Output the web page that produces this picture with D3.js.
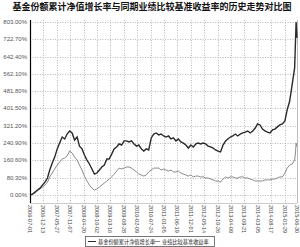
<!DOCTYPE html>
<html><head><meta charset="utf-8">
<script src="https://cdn.jsdelivr.net/npm/d3@7"></script>
<style>
html,body{margin:0;padding:0;background:#fff;}
svg{display:block;}
</style></head>
<body>
<svg id="c" width="300" height="247"></svg>
<script>
const title = "基金份额累计净值增长率与同期业绩比较基准收益率的历史走势对比图";
const seriesNames = ["基金份额累计净值增长率", "业绩比较基准收益率"];
const yTicks = [0, 80.3, 160.6, 240.9, 321.2, 401.5, 481.8, 562.1, 642.4, 722.7, 803.0];
const xTickLabels = ["2006-07-01","2006-12-13","2007-05-27","2007-11-07","2008-04-20","2008-10-02",
  "2009-03-16","2009-08-28","2010-02-09","2010-07-24","2011-01-05","2011-06-19","2011-12-01",
  "2012-05-14","2012-10-26","2013-04-09","2013-09-21","2014-03-05","2014-08-17","2015-01-29","2015-06-30"];
const extraDates = ["2015-06-12","2015-06-19","2015-06-30"];
const fundValues = [0,4.6,14,23,32,46,60,79,116,149,176,214,241,269,260,283,297,288,255,269,
  227,214,186,162,144,121,97,102,116,130,139,167,167,190,214,223,237,232,251,251,
  246,251,237,227,232,214,204,214,209,265,283,288,279,283,274,269,274,260,265,251,
  260,246,241,232,218,232,223,237,241,237,241,237,227,223,218,209,204,200,232,251,
  260,269,274,283,274,283,288,292,297,288,297,311,330,325,306,297,292,288,302,306,
  316,325,330,344,395,436,511,590,720,803,730,650];
const benchValues = [0,5,9,19,28,37,46,60,84,102,121,139,153,167,172,181,204,195,176,162,
  139,116,88,65,46,32,23,28,37,46,56,65,74,84,97,111,125,121,125,130,
  130,125,116,107,97,93,88,93,107,116,125,125,125,116,121,116,111,116,107,107,
  111,102,97,93,88,93,84,88,88,84,84,79,79,74,70,65,65,60,74,84,
  79,84,84,79,79,84,84,79,79,74,70,65,65,65,65,70,70,70,74,74,
  79,84,84,102,125,139,144,162,200,241,225,209];

const parse = d3.timeParse("%Y-%m-%d");
const monthly = d3.timeMonth.range(new Date(2006,6,1), new Date(2015,6,1));
const dates = monthly.concat(extraDates.map(parse));

const svg = d3.select("#c");
const L = 30, R = 297, T = 20, B = 203;
const x = d3.scaleTime().domain([new Date(2006,6,1), new Date(2015,5,30)]).range([L, R]);
const y = d3.scaleLinear().domain([-37, 812]).range([B, T]);

svg.append("text").attr("x", 152).attr("y", 10).attr("text-anchor", "middle")
  .attr("font-family", "Noto Sans CJK SC").attr("font-weight", "bold").attr("font-size", 9)
  .attr("fill", "#111").text(title);

svg.append("g").selectAll("line").data(yTicks).join("line")
  .attr("x1", L).attr("x2", R).attr("y1", d => Math.round(y(d)) + 0.5).attr("y2", d => Math.round(y(d)) + 0.5)
  .attr("stroke", "#aaa").attr("stroke-width", 0.8).attr("stroke-dasharray", "1,1.5");
const xt = xTickLabels.map(parse);
svg.append("g").selectAll("line").data(xt).join("line")
  .attr("x1", d => Math.round(x(d)) + 0.5).attr("x2", d => Math.round(x(d)) + 0.5).attr("y1", T).attr("y2", B)
  .attr("stroke", "#aaa").attr("stroke-width", 0.8).attr("stroke-dasharray", "1,1.5");

svg.append("line").attr("x1", L).attr("x2", R).attr("y1", B + 0.5).attr("y2", B + 0.5).attr("stroke", "#ccc");
svg.append("line").attr("x1", R + 0.5).attr("x2", R + 0.5).attr("y1", T).attr("y2", B).attr("stroke", "#bbb");

svg.append("g").selectAll("text").data(yTicks).join("text")
  .attr("x", 27).attr("y", d => y(d) + 2).attr("text-anchor", "end")
  .attr("font-family", "Liberation Sans").attr("font-size", 6).attr("fill", "#555")
  .text(d => d.toFixed(2) + "%");

svg.append("g").selectAll("text").data(xt).join("text")
  .attr("transform", (d, i) => `translate(${x(d) - 2},205) rotate(90)`)
  .attr("text-anchor", "start")
  .attr("font-family", "Liberation Sans").attr("font-size", 5.5).attr("fill", "#444")
  .text((d, i) => xTickLabels[i]);

const line = d3.line().x((d, i) => x(dates[i])).y(d => y(d));
svg.append("path").datum(benchValues).attr("d", line).attr("fill", "none")
  .attr("stroke", "#8a8a8a").attr("stroke-width", 1);
svg.append("path").datum(fundValues).attr("d", line).attr("fill", "none")
  .attr("stroke", "#2a2a2a").attr("stroke-width", 1.4);

svg.append("line").attr("x1", L + 0.5).attr("x2", L + 0.5).attr("y1", T).attr("y2", B).attr("stroke", "#000").attr("stroke-width", 1.2);

const lg = svg.append("g");
lg.append("rect").attr("x", 85.5).attr("y", 236.5).attr("width", 129).attr("height", 10)
  .attr("fill", "#fff").attr("stroke", "#555").attr("stroke-width", 0.8);
const items = [{c: "#2a2a2a", x: 88}, {c: "#8a8a8a", x: 152}];
items.forEach((it, i) => {
  lg.append("line").attr("x1", it.x).attr("x2", it.x + 8).attr("y1", 241.5).attr("y2", 241.5).attr("stroke", it.c).attr("stroke-width", 1);
  lg.append("text").attr("x", it.x + 10).attr("y", 243.5).attr("font-family", "Noto Sans CJK SC")
    .attr("font-size", 5.2).attr("fill", "#222").text(seriesNames[i]);
});
</script>
</body></html>
